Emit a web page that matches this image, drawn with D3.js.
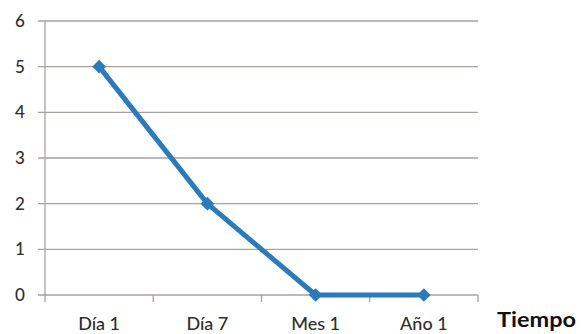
<!DOCTYPE html>
<html>
<head>
<meta charset="utf-8">
<script src="https://cdn.jsdelivr.net/npm/d3@7/dist/d3.min.js"></script>
<style>
  html, body { margin: 0; padding: 0; background: #fff; }
  svg { display: block; }
  text { font-family: Lato, "Open Sans", sans-serif; }
</style>
</head>
<body>
<svg id="chart" width="581" height="334"></svg>
<script>
// Data
const categories = ["Día 1", "Día 7", "Mes 1", "Año 1"];
const values = [5, 2, 0, 0];
const yTicks = [0, 1, 2, 3, 4, 5, 6];
const xTitle = "Tiempo";

const svg = d3.select("#chart");
const plotLeft = 45, plotRight = 478, plotTop = 21, plotBottom = 295;

const x = d3.scaleBand().domain(categories).range([plotLeft, plotRight]).padding(0);
const y = d3.scaleLinear().domain([0, 6]).range([plotBottom, plotTop]);

const gridColor = "#a8a29f";
const lineColor = "#2b7bba";
const labelColor = "#2e2e2e";

// Horizontal gridlines with small outward ticks
svg.append("g")
  .selectAll("line")
  .data(yTicks)
  .join("line")
  .attr("x1", plotLeft - 7)
  .attr("x2", plotRight)
  .attr("y1", d => y(d))
  .attr("y2", d => y(d))
  .attr("stroke", gridColor)
  .attr("stroke-width", 1.3);

// Y axis line
svg.append("line")
  .attr("x1", plotLeft).attr("x2", plotLeft)
  .attr("y1", plotTop).attr("y2", plotBottom)
  .attr("stroke", gridColor).attr("stroke-width", 1.3);

// Y tick labels
svg.append("g")
  .selectAll("text")
  .data(yTicks)
  .join("text")
  .attr("x", 20)
  .attr("y", d => y(d))
  .attr("dy", "0.36em")
  .attr("text-anchor", "middle")
  .attr("font-size", 17)
  .attr("font-weight", 500)
  .attr("fill", labelColor)
  .text(d => d);

// X axis tick marks at band boundaries
const xBounds = categories.map(c => x(c)).concat([plotRight]);
svg.append("g")
  .selectAll("line")
  .data(xBounds)
  .join("line")
  .attr("x1", d => d).attr("x2", d => d)
  .attr("y1", plotBottom).attr("y2", plotBottom + 7)
  .attr("stroke", gridColor).attr("stroke-width", 1.3);

// X category labels
svg.append("g")
  .selectAll("text")
  .data(categories)
  .join("text")
  .attr("x", d => x(d) + x.bandwidth() / 2)
  .attr("y", 330)
  .attr("text-anchor", "middle")
  .attr("font-size", 18)
  .attr("font-weight", 500)
  .attr("fill", labelColor)
  .text(d => d);

// Axis title
svg.append("text")
  .attr("x", 497)
  .attr("y", 327)
  .attr("font-size", 21)
  .attr("font-weight", "bold")
  .attr("fill", "#111")
  .attr("textLength", 79)
  .attr("lengthAdjust", "spacingAndGlyphs")
  .text(xTitle);

// Series line
const pts = categories.map((c, i) => [x(c) + x.bandwidth() / 2, y(values[i])]);
svg.append("path")
  .datum(pts)
  .attr("d", d3.line())
  .attr("fill", "none")
  .attr("stroke", lineColor)
  .attr("stroke-width", 5)
  .attr("stroke-linejoin", "round");

// Diamond markers
svg.append("g")
  .selectAll("path")
  .data(pts)
  .join("path")
  .attr("d", d3.symbol(d3.symbolDiamond2, 120))
  .attr("transform", d => `translate(${d[0]},${d[1]})`)
  .attr("fill", lineColor);
</script>
</body>
</html>
